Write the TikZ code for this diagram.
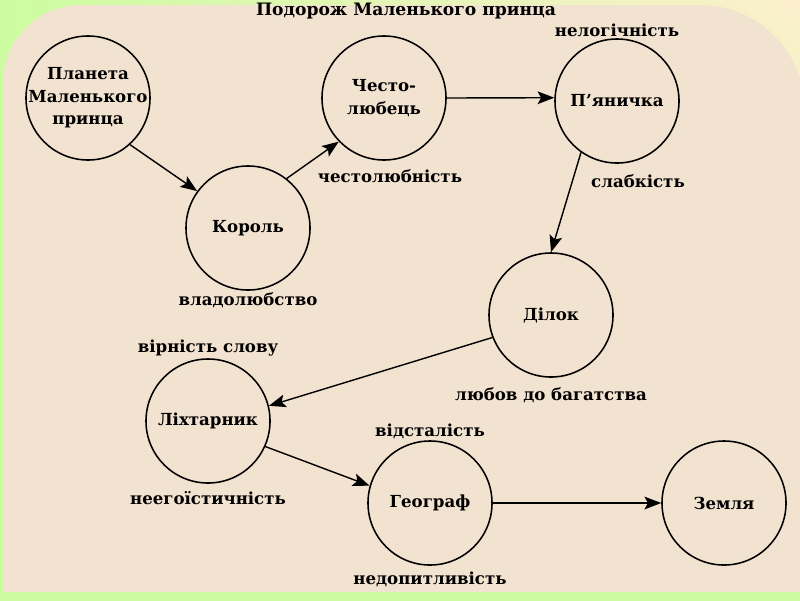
\documentclass[tikz,border=0pt]{standalone}
\usepackage{fontspec}
\setmainfont{DejaVu Serif}
\usetikzlibrary{arrows.meta,
                positioning,
                shadings
                }
\definecolor{paper}{RGB}{242,226,208}
\definecolor{leaf}{RGB}{204,252,160}
\definecolor{cream}{RGB}{252,240,204}

\begin{document}
\begin{tikzpicture}[x=0.025cm, y=-0.025cm,
    node distance = 0pt,
 world/.style = {circle, draw, line width=1.1pt, minimum size=3.1cm, inner sep=0pt,
                 align=center, font=\bfseries\fontsize{11.8}{16}\selectfont},
  vice/.style = {inner sep=1pt, font=\bfseries\fontsize{11.8}{14}\selectfont},
  trip/.style = {-{Stealth[length=4.2mm, width=3.2mm, inset=0.9mm]}, line width=1pt}
                    ]
\useasboundingbox (0,0) rectangle (800,600);
\clip (0,0) rectangle (800,600);
% background
\shade[lower left=leaf, upper left=leaf, lower right=leaf, upper right=cream]
      (0,0) rectangle (800,600);
\fill[paper] (3,592) -- (3,83) .. controls (3,40) and (38,5) .. (81,5)
      -- (700,5) .. controls (758,5) and (805,52) .. (805,110) -- (805,592) -- cycle;
% planets
\node (pl) [world, inner sep=-2mm] at (88,98) {Планета\\Маленького\\принца};
\node (kr) [world] at (248,228) {Король};
\node (ch) [world] at (384,98)  {Често-\\любець};
\node (pj) [world] at (617,101) {П’яничка};
\node (dl) [world] at (551,315) {Ділок};
\node (lh) [world] at (208,421) {Ліхтарник};
\node (gg) [world] at (430,503) {Географ};
\node (zm) [world] at (724,503) {Земля};
% labels
\node (title) [vice, font=\bfseries\fontsize{12.2}{14}\selectfont] at (406,11) {Подорож Маленького принца};
\node (v1) [vice, above=of pj]    {нелогічність};
\node (v2) [vice] at (638,181)    {слабкість};
\node (v3) [vice] at (390,176)    {честолюбність};
\node (v4) [vice, below=of kr]    {владолюбство};
\node (v5) [vice, above=of lh]    {вірність слову};
\node (v6) [vice, below=2mm of dl] {любов до багатства};
\node (v7) [vice, above=of gg]    {відсталість};
\node (v8) [vice, below=1.5mm of lh] {неегоїстичність};
\node (v9) [vice, below=1mm of gg] {недопитливість};
% route
\draw[trip] (pl.-48) -- (kr.144);
\draw[trip] (kr.52)  -- (ch.224);
\draw[trip] (ch.0)   -- (pj.177);
\draw[trip] (pj.235) -- (dl.90);
\draw[trip] (dl.201) -- (lh.14);
\draw[trip] (lh.-24) -- (gg.164);
\draw[trip] (gg)     -- (zm);
\end{tikzpicture}
\end{document}
